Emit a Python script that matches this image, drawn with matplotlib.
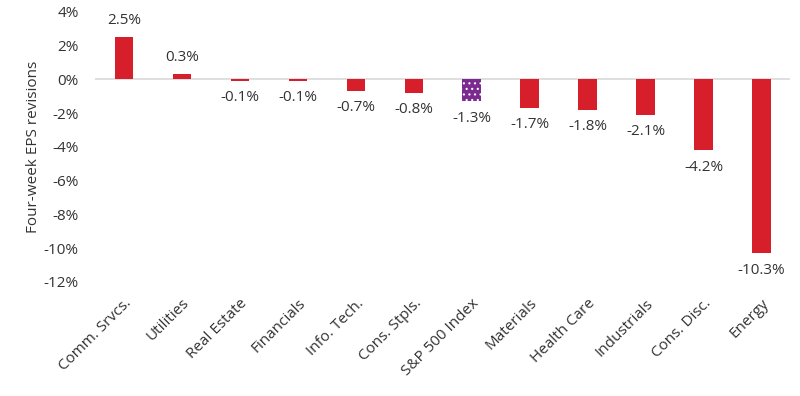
import matplotlib.pyplot as plt
from matplotlib.ticker import FuncFormatter

plt.rcParams['font.family'] = ['Open Sans', 'DejaVu Sans']
plt.rcParams['hatch.linewidth'] = 0.8

sectores = ["Comm. Srvcs.", "Utilities", "Real Estate", "Financials", "Info. Tech.",
            "Cons. Stpls.", "S&P 500 Index", "Materials", "Health Care", "Industrials",
            "Cons. Disc.", "Energy"]
revisiones = [2.5, 0.3, -0.1, -0.1, -0.7, -0.8, -1.3, -1.7, -1.8, -2.1, -4.2, -10.3]

rojo = "#d71f2b"
morado = "#7b2a90"
gris_texto = "#333333"

fig = plt.figure(figsize=(8, 3.96), dpi=100)
ax = fig.add_axes([0.119, 0.288, 0.869, 0.682])

x = list(range(len(sectores)))
colores = [morado if s == "S&P 500 Index" else rojo for s in sectores]
barras = ax.bar(x, revisiones, width=0.32, color=colores, zorder=2)
barras[6].set_hatch("...")
barras[6].set_edgecolor("white")
barras[6].set_linewidth(0)

for xi, v in zip(x, revisiones):
    if v >= 0:
        ax.text(xi, v + 0.55, f"{v:.1f}%", ha="center", va="bottom", fontsize=11, color=gris_texto)
    else:
        ax.text(xi, v - 0.55, f"{v:.1f}%", ha="center", va="top", fontsize=11, color=gris_texto)

ax.axhline(0, color="#d9d9d9", linewidth=1.2, zorder=1)
ax.set_ylim(-12, 4)
ax.set_xlim(-0.5, len(sectores) - 0.5)
ax.set_yticks(range(-12, 5, 2))
ax.yaxis.set_major_formatter(FuncFormatter(lambda v, p: f"{v:.0f}%"))
ax.set_xticks(x)
ax.set_xticklabels(sectores, rotation=45, ha="right", rotation_mode="anchor")
ax.tick_params(axis="both", length=0, labelsize=11, colors=gris_texto)
ax.tick_params(axis="x", pad=10)
ax.tick_params(axis="y", pad=12)
for lado in ax.spines.values():
    lado.set_visible(False)

ax.set_ylabel("Four-week EPS revisions", fontsize=11, color=gris_texto, labelpad=2)

plt.savefig("out.png", dpi=100)
